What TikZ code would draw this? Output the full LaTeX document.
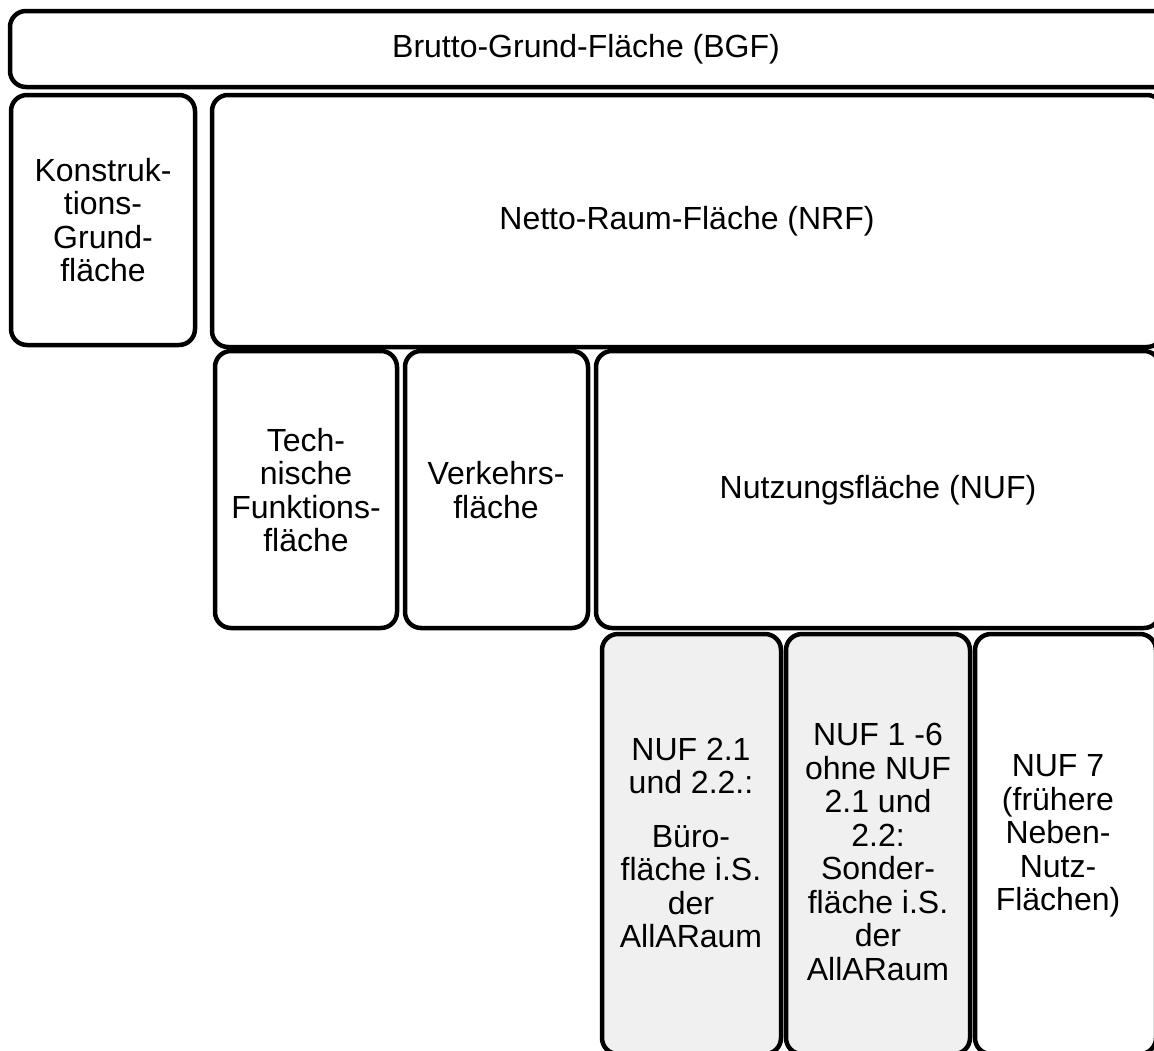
\documentclass[tikz,border=0pt]{standalone}
\usepackage{fontspec}
\setmainfont{Liberation Sans}
\definecolor{boxgray}{RGB}{240,240,240}
\begin{document}
\begin{tikzpicture}[x=1pt,y=-1pt,
  box/.style={draw=black, line width=4.5pt, rounded corners=16pt, fill=white},
  gbox/.style={box, fill=boxgray},
  lbl/.style={align=center, font=\fontsize{32}{33.5}\selectfont, inner sep=0pt}]
\useasboundingbox (0,0) rectangle (1154,1050);
\clip (0,0) rectangle (1154,1050);
% boxes
\draw[box] (10,11) rectangle (1185,87);
\draw[box] (11,95) rectangle (195,345);
\draw[box] (212,95) rectangle (1163,347);
\draw[box] (215,351) rectangle (397,628);
\draw[box] (405,351) rectangle (588,628);
\draw[box] (596,351) rectangle (1160,628);
\draw[gbox] (602,634) rectangle (781,1054);
\draw[gbox] (786,634) rectangle (970,1054);
\draw[box] (975,634) rectangle (1156,1054);
% labels
\node[lbl] (bgf) at (586,49) {Brutto-Grund-Fläche (BGF)};
\node[lbl] (kgf) at (103,220) {Konstruk-\\tions-\\Grund-\\fläche};
\node[lbl] (nrf) at (687,221) {Netto-Raum-Fläche (NRF)};
\node[lbl] (tf) at (306,490) {Tech-\\nische\\Funktions-\\fläche};
\node[lbl] (vf) at (496,490) {Verkehrs-\\fläche};
\node[lbl] (nuf) at (878,490) {Nutzungsfläche (NUF)};
\node[lbl] (buero) at (691,843) {NUF 2.1\\und 2.2.:\\[20pt]Büro-\\fläche i.S.\\der\\AllARaum};
\node[lbl] (sonder) at (878,852) {NUF 1 -6\\ohne NUF\\2.1 und\\2.2:\\Sonder-\\fläche i.S.\\der\\AllARaum};
\node[lbl] (nuf7) at (1058,836) {NUF 7\\(frühere\\Neben-\\Nutz-\\Flächen)};
\end{tikzpicture}
\end{document}
